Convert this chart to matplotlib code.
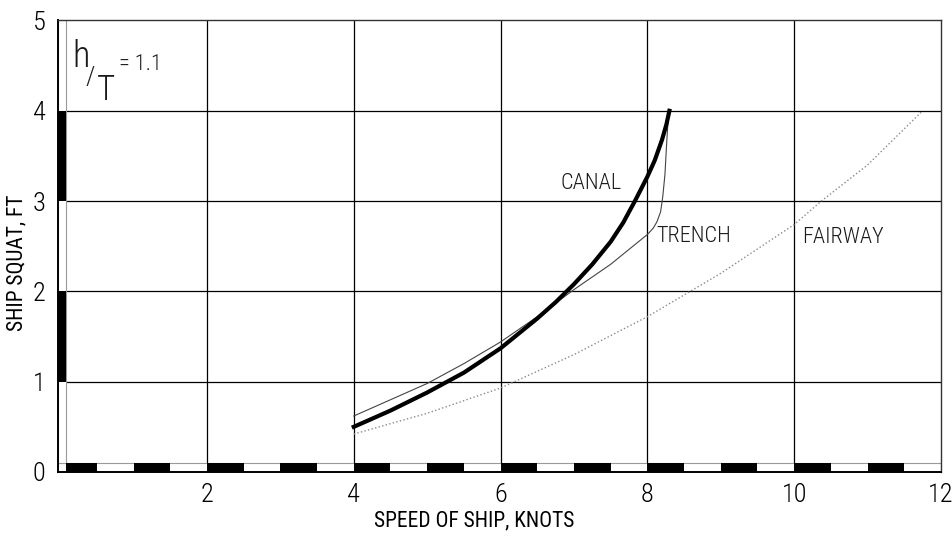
import matplotlib.pyplot as plt
from matplotlib.patches import Rectangle

plt.rcParams['font.family'] = ['Roboto Condensed', 'DejaVu Sans']
plt.rcParams['font.weight'] = 'light'
plt.rcParams['text.color'] = '#1a1a1a'

# squat curves (speed in knots, squat in ft), h/T = 1.1
canal_speed = [4.0, 4.5, 5.0, 5.5, 6.0, 6.5, 6.75, 7.0, 7.25, 7.5, 7.67, 7.83, 8.0,
               8.1, 8.2, 8.26, 8.3]
canal_squat = [0.50, 0.68, 0.88, 1.10, 1.37, 1.70, 1.88, 2.08, 2.30, 2.55, 2.76, 3.0, 3.27,
               3.45, 3.68, 3.85, 4.0]

trench_speed = [4.0, 4.5, 5.0, 5.5, 6.0, 6.5, 7.0, 7.5, 8.0, 8.08, 8.13, 8.18, 8.21,
                8.24, 8.26, 8.29]
trench_squat = [0.62, 0.80, 0.98, 1.20, 1.44, 1.72, 2.02, 2.30, 2.63, 2.70, 2.77, 2.88, 3.05,
                3.3, 3.6, 4.0]

fairway_speed = [4.0, 5.0, 6.0, 7.0, 8.0, 9.0, 10.0, 10.37, 11.0, 11.75]
fairway_squat = [0.42, 0.65, 0.93, 1.30, 1.72, 2.20, 2.74, 3.0, 3.40, 4.0]

x_ticks = [2, 4, 6, 8, 10, 12]
y_ticks = [0, 1, 2, 3, 4, 5]

fig = plt.figure(figsize=(9.52, 5.38), dpi=100)
ax = fig.add_axes([0.0609, 0.1227, 0.9275, 0.8392])
ax.set_xlim(-0.03, 12)
ax.set_ylim(0, 5)

# grid
for x in x_ticks[:-1]:
    ax.axvline(x, color='black', lw=0.9, zorder=1)
for y in y_ticks[1:-1]:
    ax.axhline(y, color='black', lw=0.9, zorder=1)

# checkered scale strips along the axes
ax.add_patch(Rectangle((-0.03, 0), 12.03, 0.1, facecolor='white',
                       edgecolor='#999999', lw=0.8, zorder=2))
for k in range(12):
    x0 = max(k, 0.08)
    ax.add_patch(Rectangle((x0, 0), k + 0.5 - x0, 0.1, facecolor='black',
                           edgecolor='none', zorder=3))
ax.add_patch(Rectangle((-0.03, 0.1), 0.11, 4.9, facecolor='white',
                       edgecolor='#999999', lw=0.8, zorder=2))
for y0 in [1, 3]:
    ax.add_patch(Rectangle((-0.03, y0), 0.11, 1, facecolor='black',
                           edgecolor='none', zorder=3))

# curves
ax.plot(fairway_speed, fairway_squat, color='#8a8a8a', lw=1.0, ls=':', zorder=4)
ax.plot(trench_speed, trench_squat, color='#444444', lw=0.8, zorder=4)
ax.plot(canal_speed, canal_squat, color='black', lw=3.0, zorder=5,
        solid_joinstyle='round')

ax.text(6.82, 3.13, 'CANAL', fontsize=16, va='baseline', ha='left')
ax.text(8.12, 2.55, 'TRENCH', fontsize=16, va='baseline', ha='left')
ax.text(10.11, 2.535, 'FAIRWAY', fontsize=16, va='baseline', ha='left')

# h/T annotation
ax.text(0.16, 4.48, 'h', fontsize=26, va='baseline', ha='left')
ax.text(0.35, 4.29, '/', fontsize=19, va='baseline', ha='left')
ax.text(0.50, 4.12, 'T', fontsize=25, va='baseline', ha='left')
ax.text(0.80, 4.45, '= 1.1', fontsize=16, va='baseline', ha='left')

ax.set_xticks(x_ticks)
ax.set_yticks(y_ticks)
ax.tick_params(length=0, labelsize=19)
ax.tick_params(axis='x', pad=8)
ax.tick_params(axis='y', pad=9)
ax.set_xlabel('SPEED OF SHIP, KNOTS', fontsize=15.5)
ax.set_ylabel('SHIP SQUAT, FT', fontsize=15.5)
ax.xaxis.set_label_coords(0.471, -0.085)
ax.yaxis.set_label_coords(-0.035, 0.463)

for side in ['left', 'bottom']:
    ax.spines[side].set_linewidth(1.4)
for side in ['top', 'right']:
    ax.spines[side].set_linewidth(1.0)
    ax.spines[side].set_color('#333333')

plt.savefig('out.png', dpi=100)
